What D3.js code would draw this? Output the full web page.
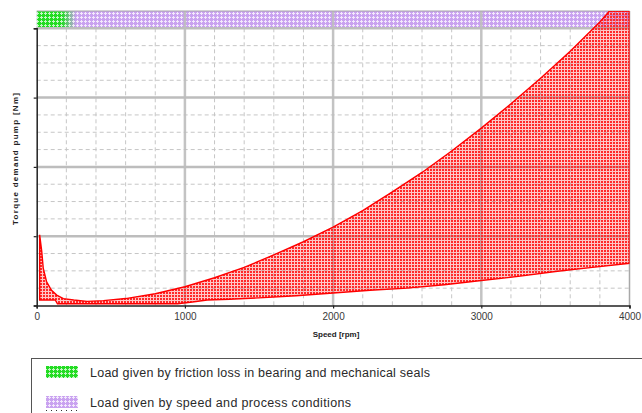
<!DOCTYPE html>
<html>
<head>
<meta charset="utf-8">
<script src="https://cdn.jsdelivr.net/npm/d3@7"></script>
<style>
  html, body { margin: 0; padding: 0; background: #fff; }
  svg { display: block; font-family: "Liberation Sans", Arial, sans-serif; }
</style>
</head>
<body>
<svg id="chart" width="642" height="413"></svg>
<script>
// Speed axis (rpm)
const speedTicks = [0, 1000, 2000, 3000, 4000];
const speedDomain = [0, 4000];
// Torque axis (Nm) – major grid every 10, minor every 2.5, band on top
const torqueDomain = [0, 40];
const torqueMajor = [0, 10, 20, 30, 40];
const bandRange = [40, 42.5];

// Upper limit of the torque demand
const upperSpeed  = [20, 34, 44, 67, 100, 135, 180, 250, 340, 450, 600, 800, 1000, 1200, 1400, 1600, 1800, 2000, 2200, 2400, 2600, 2800, 3000, 3200, 3400, 3600, 3800, 3865, 4000];
const upperTorque = [10.2, 7.8, 5.4, 3.4, 2.2, 1.5, 1.0, 0.8, 0.6, 0.7, 1.0, 1.7, 2.7, 4.0, 5.5, 7.3, 9.2, 11.3, 13.7, 16.4, 19.2, 22.3, 25.6, 29.1, 32.8, 36.7, 40.9, 42.5, 42.5];

// Lower limit of the torque demand
const lowerSpeed  = [20, 125, 140, 950, 1050, 1150, 1300, 1500, 1750, 2000, 2250, 2500, 2750, 3000, 3250, 3500, 3750, 4000];
const lowerTorque = [0.8, 0.8, 0.25, 0.25, 0.5, 0.8, 0.9, 1.1, 1.4, 1.8, 2.2, 2.5, 3.0, 3.6, 4.2, 4.9, 5.5, 6.1];

// Top band: speed range of the friction share (solid, then fading)
const frictionSpeed = [0, 170, 265];

const legendItems = [
  "Load given by friction loss in bearing and mechanical seals",
  "Load given by speed and process conditions"
];
const legendWidths = [340, 261];

const svg = d3.select("#chart");
const defs = svg.append("defs");

const x = d3.scaleLinear().domain(speedDomain).range([36.7, 629.5]);
const y = d3.scaleLinear().domain(torqueDomain).range([305.5, 28.3]);
const yTop = y(bandRange[1]);

// ---- hatch patterns (small crosses on a coloured ground) ----
function hatch(id, base, light) {
  const p = defs.append("pattern").attr("id", id)
    .attr("patternUnits", "userSpaceOnUse").attr("width", 4).attr("height", 4);
  p.append("rect").attr("width", 4).attr("height", 4).attr("fill", base);
  [[1, 0], [0, 1], [1, 1], [2, 1], [1, 2]].forEach(([px, py]) => {
    p.append("rect").attr("x", px).attr("y", py).attr("width", 1).attr("height", 1).attr("fill", light);
  });
}
hatch("hatchPurple", "#c9a2f0", "#f3e9fc");
hatch("hatchGreen", "#22dc22", "#c4f7c4");

const pr = defs.append("pattern").attr("id", "hatchRed")
  .attr("patternUnits", "userSpaceOnUse").attr("width", 3).attr("height", 3);
pr.append("rect").attr("width", 3).attr("height", 3).attr("fill", "rgba(255,0,0,0.22)");
pr.append("rect").attr("x", 1).attr("y", 1).attr("width", 2).attr("height", 2).attr("fill", "#ff2a2a");

const fade = defs.append("linearGradient").attr("id", "greenFade")
  .attr("gradientUnits", "userSpaceOnUse")
  .attr("x1", x(frictionSpeed[1])).attr("x2", x(frictionSpeed[2])).attr("y1", 0).attr("y2", 0);
fade.append("stop").attr("offset", 0).attr("stop-color", "#fff").attr("stop-opacity", 1);
fade.append("stop").attr("offset", 1).attr("stop-color", "#fff").attr("stop-opacity", 0);
defs.append("mask").attr("id", "greenMask")
  .append("rect").attr("x", x(0)).attr("y", yTop)
  .attr("width", x(frictionSpeed[2]) - x(0)).attr("height", y(bandRange[0]) - yTop)
  .attr("fill", "url(#greenFade)");

defs.append("clipPath").attr("id", "plotClip")
  .append("rect").attr("x", x(0)).attr("y", yTop)
  .attr("width", x(4000) - x(0)).attr("height", y(0) - yTop);

// ---- top band ----
svg.append("rect")
  .attr("x", x(0)).attr("y", yTop)
  .attr("width", x(4000) - x(0)).attr("height", y(bandRange[0]) - yTop)
  .attr("fill", "url(#hatchPurple)");
svg.append("rect")
  .attr("x", x(0)).attr("y", yTop)
  .attr("width", x(frictionSpeed[2]) - x(0)).attr("height", y(bandRange[0]) - yTop)
  .attr("fill", "url(#hatchGreen)").attr("mask", "url(#greenMask)");

// ---- grid ----
const grid = svg.append("g");
const minorX = d3.range(200, 4000, 200).filter(v => v % 1000 !== 0);
const minorY = d3.range(2.5, 40, 2.5).filter(v => v % 10 !== 0);
grid.selectAll(".mx").data(minorX).join("line")
  .attr("x1", d => x(d)).attr("x2", d => x(d))
  .attr("y1", y(40)).attr("y2", y(0))
  .attr("stroke", "#c6c6c6").attr("stroke-width", 1).attr("stroke-dasharray", "4,3");
grid.selectAll(".my").data(minorY).join("line")
  .attr("x1", x(0)).attr("x2", x(4000))
  .attr("y1", d => y(d)).attr("y2", d => y(d))
  .attr("stroke", "#c6c6c6").attr("stroke-width", 1).attr("stroke-dasharray", "4,3");
grid.selectAll(".Mx").data([1000, 2000, 3000]).join("line")
  .attr("x1", d => x(d)).attr("x2", d => x(d))
  .attr("y1", yTop).attr("y2", y(0))
  .attr("stroke", "#bdbdbd").attr("stroke-opacity", 0.9).attr("stroke-width", 2.5);
grid.selectAll(".My").data([10, 20, 30, 40]).join("line")
  .attr("x1", x(0)).attr("x2", x(4000))
  .attr("y1", d => y(d)).attr("y2", d => y(d))
  .attr("stroke", "#bdbdbd").attr("stroke-width", 2.5);
svg.append("line")
  .attr("x1", x(0)).attr("x2", x(4000)).attr("y1", yTop).attr("y2", yTop)
  .attr("stroke", "#a8a8a8").attr("stroke-width", 1.2);
svg.append("line")
  .attr("x1", x(4000)).attr("x2", x(4000)).attr("y1", yTop).attr("y2", y(0))
  .attr("stroke", "#a8a8a8").attr("stroke-width", 1.5);

// ---- torque demand area ----
const upperPts = upperSpeed.map((s, i) => [s, upperTorque[i]]);
const lowerPts = lowerSpeed.map((s, i) => [s, lowerTorque[i]]);
const line = d3.line().x(d => x(d[0])).y(d => y(d[1]));
const areaPts = upperPts.concat(lowerPts.slice().reverse());
const plot = svg.append("g").attr("clip-path", "url(#plotClip)");
plot.append("path")
  .attr("d", line(areaPts) + "Z")
  .attr("fill", "url(#hatchRed)")
  .attr("stroke", "#ff0000").attr("stroke-width", 1.4).attr("stroke-linejoin", "miter");

// ---- axes ----
const xAxis = d3.axisBottom(x).tickValues(speedTicks).tickSize(3).tickFormat(d3.format("d"));
const gx = svg.append("g").attr("transform", `translate(0,${y(0)})`).call(xAxis);
gx.select(".domain").attr("stroke", "#222").attr("stroke-width", 1.5);
gx.selectAll(".tick line").attr("stroke", "#222").attr("stroke-width", 1.2);
gx.selectAll(".tick text").attr("fill", "#3a3a3a").attr("font-size", "10px").attr("dy", "0.85em")
  .attr("font-family", "Liberation Sans, Arial, sans-serif");

const yAxis = d3.axisLeft(y).tickValues(torqueMajor).tickSize(3).tickFormat("");
const gy = svg.append("g").attr("transform", `translate(${x(0)},0)`).call(yAxis);
gy.select(".domain").attr("stroke", "#222").attr("stroke-width", 1.5);
gy.selectAll(".tick line").attr("stroke", "#222").attr("stroke-width", 1.2);

// ---- axis titles ----
svg.append("text")
  .attr("x", 336).attr("y", 337)
  .attr("text-anchor", "middle")
  .attr("font-size", "8px").attr("font-weight", "bold").attr("fill", "#222")
  .text("Speed [rpm]");
svg.append("text")
  .attr("transform", "translate(18,159) rotate(-90)")
  .attr("text-anchor", "middle")
  .attr("font-size", "8px").attr("font-weight", "bold").attr("fill", "#222")
  .attr("textLength", 132).attr("lengthAdjust", "spacing")
  .text("Torque demand pump [Nm]");

// ---- legend ----
const lg = svg.append("g");
lg.append("rect").attr("x", 31.5).attr("y", 358.5).attr("width", 620).attr("height", 80)
  .attr("fill", "#fff").attr("stroke", "#555").attr("stroke-width", 1);
const swatchFill = ["url(#hatchGreen)", "url(#hatchPurple)"];
legendItems.forEach((t, i) => {
  const cy = 372 + i * 30;
  lg.append("rect").attr("x", 46).attr("y", cy - 6).attr("width", 32).attr("height", 12)
    .attr("fill", swatchFill[i]);
  lg.append("text").attr("x", 90).attr("y", cy + 4.5)
    .attr("font-size", "12.5px").attr("fill", "#2a2a2a")
    .attr("textLength", legendWidths[i]).attr("lengthAdjust", "spacing")
    .text(t);
});
lg.append("line").attr("x1", 46).attr("x2", 78).attr("y1", 410.5).attr("y2", 410.5)
  .attr("stroke", "#333").attr("stroke-width", 1).attr("stroke-dasharray", "1,4");
</script>
</body>
</html>
